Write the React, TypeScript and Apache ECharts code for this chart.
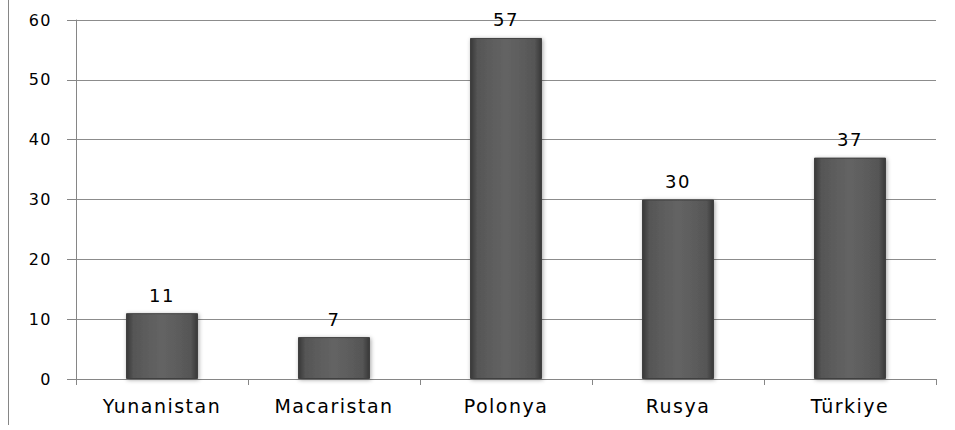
import React, { useEffect, useRef } from "react";
import * as echarts from "echarts";

const countries = ["Yunanistan", "Macaristan", "Polonya", "Rusya", "Türkiye"];
const counts = [11, 7, 57, 30, 37];
const yTicks = { min: 0, max: 60, interval: 10 };

const FONT = "DejaVu Sans";

export default function App() {
  const ref = useRef<HTMLDivElement>(null);

  useEffect(() => {
    if (!ref.current) return;
    const chart = echarts.init(ref.current, undefined, { renderer: "svg" });

    const barFill = new echarts.graphic.LinearGradient(0, 0, 1, 0, [
      { offset: 0, color: "#383838" },
      { offset: 0.1, color: "#565656" },
      { offset: 0.5, color: "#646464" },
      { offset: 0.9, color: "#565656" },
      { offset: 1, color: "#383838" },
    ]);

    chart.setOption({
      animation: false,
      backgroundColor: "#ffffff",
      grid: { left: 76, right: 19, top: 20, bottom: 51, containLabel: false },
      xAxis: {
        type: "category",
        data: countries,
        axisLine: { show: true, lineStyle: { color: "#868686", width: 1 } },
        axisTick: { show: true, length: 6, lineStyle: { color: "#868686" } },
        axisLabel: { color: "#000000", fontFamily: FONT, fontSize: 19, margin: 17 },
      },
      yAxis: {
        type: "value",
        min: yTicks.min,
        max: yTicks.max,
        interval: yTicks.interval,
        axisLine: { show: true, lineStyle: { color: "#868686", width: 1 } },
        axisTick: { show: true, length: 9, lineStyle: { color: "#868686" } },
        axisLabel: { color: "#000000", fontFamily: FONT, fontSize: 16, margin: 24 },
        splitLine: { show: true, lineStyle: { color: "#8c8c8c", width: 1 } },
      },
      series: [
        {
          type: "bar",
          data: counts,
          barWidth: 72,
          itemStyle: {
            color: barFill,
            borderColor: "#404040",
            borderWidth: 1,
            shadowColor: "rgba(0,0,0,0.35)",
            shadowBlur: 4,
            shadowOffsetX: 1,
            shadowOffsetY: 1,
          },
          label: {
            show: true,
            position: "top",
            distance: 9,
            color: "#000000",
            fontFamily: FONT,
            fontSize: 18,
          },
        },
      ],
      graphic: [
        {
          type: "line",
          shape: { x1: 8.5, y1: 0, x2: 8.5, y2: 425 },
          style: { stroke: "#868686", lineWidth: 1 },
        },
      ],
    });

    return () => chart.dispose();
  }, []);

  return (
    <>
      <style>{".bar-chart svg text { letter-spacing: 1.5px; }"}</style>
      <div
        ref={ref}
        className="bar-chart"
        style={{ width: 955, height: 430, position: "absolute", left: 0, top: 0 }}
      />
    </>
  );
}
